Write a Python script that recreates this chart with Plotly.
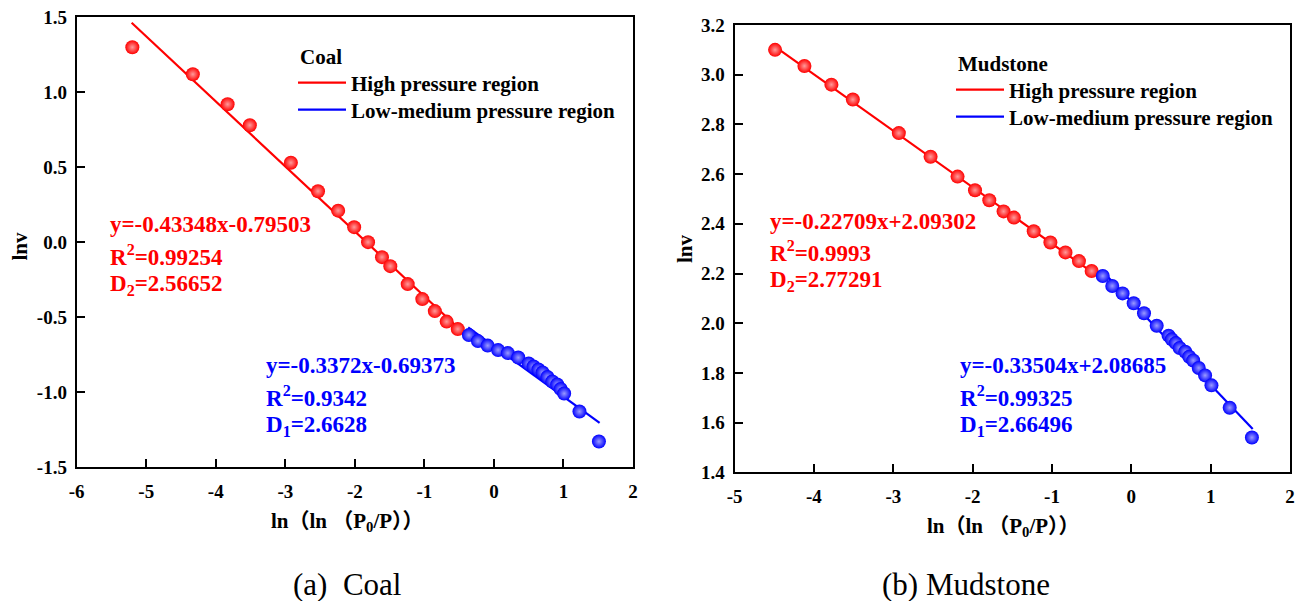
import plotly.graph_objects as go

# ---------------- data ----------------
coal_high_x = [-5.20, -4.33, -3.83, -3.51, -2.92, -2.53, -2.24, -2.01, -1.81, -1.61, -1.49, -1.24, -1.03, -0.85, -0.68, -0.52]
coal_high_y = [1.30, 1.12, 0.92, 0.78, 0.53, 0.34, 0.21, 0.10, 0.00, -0.10, -0.16, -0.28, -0.38, -0.46, -0.53, -0.58]
coal_low_x = [-0.36, -0.23, -0.09, 0.06, 0.20, 0.35, 0.50, 0.57, 0.64, 0.70, 0.77, 0.84, 0.91, 0.96, 1.01, 1.23, 1.51]
coal_low_y = [-0.62, -0.66, -0.69, -0.72, -0.74, -0.77, -0.81, -0.83, -0.85, -0.87, -0.90, -0.93, -0.95, -0.98, -1.01, -1.13, -1.33]

mud_high_x = [-4.49, -4.12, -3.78, -3.51, -2.93, -2.53, -2.19, -1.97, -1.79, -1.61, -1.48, -1.23, -1.02, -0.83, -0.66, -0.50]
mud_high_y = [3.10, 3.035, 2.96, 2.90, 2.765, 2.67, 2.59, 2.535, 2.495, 2.45, 2.425, 2.37, 2.325, 2.285, 2.25, 2.21]
mud_low_x = [-0.36, -0.24, -0.11, 0.03, 0.16, 0.32, 0.47, 0.51, 0.56, 0.61, 0.68, 0.73, 0.78, 0.85, 0.93, 1.01, 1.24, 1.52]
mud_low_y = [2.19, 2.15, 2.12, 2.08, 2.04, 1.99, 1.95, 1.935, 1.92, 1.90, 1.885, 1.865, 1.85, 1.82, 1.79, 1.75, 1.66, 1.54]

# fitted lines (slope, intercept from the chart) and their x extents
coal_high_fit = (-0.43348, -0.79503)
coal_low_fit = (-0.3372, -0.69373)
mud_high_fit = (-0.22709, 2.09302)
mud_low_fit = (-0.33504, 2.08685)
coal_high_fit_x = [-5.21, -0.47]
coal_low_fit_x = [-0.37, 1.52]
mud_high_fit_x = [-4.50, -0.50]
mud_low_fit_x = [-0.37, 1.53]

# ticks
coal_xticks = [-6, -5, -4, -3, -2, -1, 0, 1, 2]
coal_xticktext = ["-6", "-5", "-4", "-3", "-2", "-1", "0", "1", "2"]
coal_yticks = [-1.5, -1.0, -0.5, 0.0, 0.5, 1.0, 1.5]
coal_yticktext = ["-1.5", "-1.0", "-0.5", "0.0", "0.5", "1.0", "1.5"]
mud_xticks = [-5, -4, -3, -2, -1, 0, 1, 2]
mud_xticktext = ["-5", "-4", "-3", "-2", "-1", "0", "1", "2"]
mud_yticks = [1.4, 1.6, 1.8, 2.0, 2.2, 2.4, 2.6, 2.8, 3.0, 3.2]
mud_yticktext = ["1.4", "1.6", "1.8", "2.0", "2.2", "2.4", "2.6", "2.8", "3.0", "3.2"]

series_names = ["High pressure region", "Low-medium pressure region"]
panel_titles = ["Coal", "Mudstone"]
captions = ["(a)  Coal", "(b) Mudstone"]

coal_red_text = ["y=-0.43348x-0.79503", "R<sup>2</sup>=0.99254", "D<sub>2</sub>=2.56652"]
coal_blue_text = ["y=-0.3372x-0.69373", "R<sup>2</sup>=0.9342", "D<sub>1</sub>=2.6628"]
mud_red_text = ["y=-0.22709x+2.09302", "R<sup>2</sup>=0.9993", "D<sub>2</sub>=2.77291"]
mud_blue_text = ["y=-0.33504x+2.08685", "R<sup>2</sup>=0.99325", "D<sub>1</sub>=2.66496"]

RED = "#FF0000"
BLUE = "#0000FF"
SERIF = "Liberation Serif, Times New Roman, Noto Sans CJK SC, serif"
W, H = 1301, 601


def px(x):
    return x / W


def py(y):
    return 1 - y / H


def bold(labels):
    return ["<b>%s</b>" % t for t in labels]


def fit_line(fit, xs):
    return [fit[0] * x + fit[1] for x in xs]


fig = go.Figure()


def add_panel(xa, ya, leg_hi, leg_lo, hx, hy, lx, ly, hfit, hfx, lfit, lfx):
    fig.add_trace(go.Scatter(x=hfx, y=fit_line(hfit, hfx), mode="lines", line=dict(color=RED, width=2.2),
                             name=series_names[0], xaxis=xa, yaxis=ya, legend=leg_hi))
    fig.add_trace(go.Scatter(x=lfx, y=fit_line(lfit, lfx), mode="lines", line=dict(color=BLUE, width=2.2),
                             name=series_names[1], xaxis=xa, yaxis=ya, legend=leg_lo))
    fig.add_trace(go.Scatter(x=hx, y=hy, mode="markers", showlegend=False, xaxis=xa, yaxis=ya,
                             marker=dict(size=14, color=RED, line=dict(width=0),
                                         gradient=dict(type="radial", color="#ff9a9a"))))
    fig.add_trace(go.Scatter(x=lx, y=ly, mode="markers", showlegend=False, xaxis=xa, yaxis=ya,
                             marker=dict(size=14, color=BLUE, line=dict(width=0),
                                         gradient=dict(type="radial", color="#9a9aff"))))


add_panel("x", "y", "legend", "legend2", coal_high_x, coal_high_y, coal_low_x, coal_low_y,
          coal_high_fit, coal_high_fit_x, coal_low_fit, coal_low_fit_x)
add_panel("x2", "y2", "legend3", "legend4", mud_high_x, mud_high_y, mud_low_x, mud_low_y,
          mud_high_fit, mud_high_fit_x, mud_low_fit, mud_low_fit_x)

tickfont = dict(family=SERIF, size=19, color="black", weight="bold")
axis_common = dict(showgrid=False, zeroline=False, showline=True, linecolor="black", linewidth=2,
                   mirror=True, ticks="inside", ticklen=8, tickwidth=1.5, tickcolor="black",
                   tickfont=tickfont, tickmode="array", automargin=False)

legend_font = dict(family=SERIF, size=21, color="black", weight="bold")


def legend_at(x, y):
    return dict(x=px(x), y=py(y), xanchor="left", yanchor="middle", bgcolor="rgba(0,0,0,0)", borderwidth=0,
                font=legend_font, itemwidth=48, tracegroupgap=0)


fig.update_layout(
    template="none",
    width=W, height=H, margin=dict(l=0, r=0, t=0, b=0, pad=0, autoexpand=False),
    paper_bgcolor="white", plot_bgcolor="white", showlegend=True,
    xaxis=dict(domain=[px(76.7), px(633)], range=[-6, 2], tickvals=coal_xticks, ticktext=bold(coal_xticktext),
               anchor="y", ticklabelstandoff=6, **axis_common),
    yaxis=dict(domain=[py(467), py(17.3)], range=[-1.5, 1.5], tickvals=coal_yticks, ticktext=bold(coal_yticktext),
               anchor="x", ticklabelstandoff=4, **axis_common),
    xaxis2=dict(domain=[px(734.6), px(1290)], range=[-5, 2], tickvals=mud_xticks, ticktext=bold(mud_xticktext),
                anchor="y2", ticklabelstandoff=6, **axis_common),
    yaxis2=dict(domain=[py(472.3), py(25)], range=[1.4, 3.2], tickvals=mud_yticks, ticktext=bold(mud_yticktext),
                anchor="x2", ticklabelstandoff=4, **axis_common),
    legend=legend_at(293, 83),
    legend2=legend_at(293, 110),
    legend3=legend_at(951, 90),
    legend4=legend_at(951, 117),
)

ann = []


def text_block(lines, x, ys, color):
    for t, y in zip(lines, ys):
        ann.append(dict(text="<b>%s</b>" % t, x=px(x), y=py(y), xref="paper", yref="paper",
                        xanchor="left", yanchor="middle", showarrow=False,
                        font=dict(family=SERIF, size=23, color=color, weight="bold")))


text_block(coal_red_text, 108, [224, 255, 285], RED)
text_block(coal_blue_text, 264, [365, 396, 426], BLUE)
text_block(mud_red_text, 768, [221, 251, 281], RED)
text_block(mud_blue_text, 958, [365, 396, 426], BLUE)

# legend titles
text_block_font = dict(family=SERIF, size=21, color="black", weight="bold")
for t, x, y in zip(panel_titles, [298, 956], [57, 64]):
    ann.append(dict(text="<b>%s</b>" % t, x=px(x), y=py(y), xref="paper", yref="paper",
                    xanchor="left", yanchor="middle", showarrow=False, font=text_block_font))

title_font = dict(family=SERIF, size=21, color="black", weight="bold")


def center_text(text, x, y, font, angle=0):
    ann.append(dict(text=text, x=px(x), y=py(y), xref="paper", yref="paper", xanchor="center",
                    yanchor="middle", textangle=angle, showarrow=False, font=font))


center_text("<b>ln（ln （P<sub>0</sub>/P））</b>", 347, 522, title_font)
center_text("<b>ln（ln （P<sub>0</sub>/P））</b>", 1004, 527, title_font)
center_text("<b>lnv</b>", 19.5, 246, title_font, -90)
center_text("<b>lnv</b>", 685, 249, title_font, -90)

cap_font = dict(family=SERIF, size=31, color="black")
center_text(captions[0], 347, 584, cap_font)
center_text(captions[1], 966, 584, cap_font)

fig.update_layout(annotations=ann)
fig.write_html("out.html")
